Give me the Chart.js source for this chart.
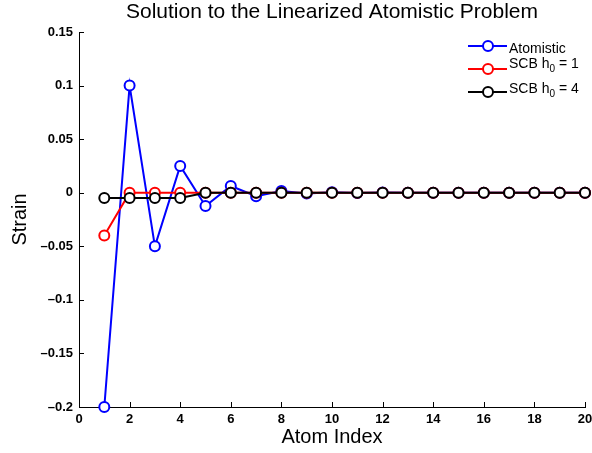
<!DOCTYPE html>
<html>
<head>
<meta charset="utf-8">
<script src="https://cdn.jsdelivr.net/npm/chart.js@4"></script>
<style>
  body { margin: 0; background: #fff; }
  #box { width: 592px; height: 453px; }
</style>
</head>
<body>
<div id="box"><canvas id="strainChart"></canvas></div>
<script>
// atom index 1..20
const atomIndex = [1, 2, 3, 4, 5, 6, 7, 8, 9, 10, 11, 12, 13, 14, 15, 16, 17, 18, 19, 20];
// strain values
const atomistic = [-0.2, 0.1, -0.05, 0.025, -0.0125, 0.0063, -0.0032, 0.0016, -0.0008, 0.0004, -0.0002, 0.0001, 0, 0, 0, 0, 0, 0, 0, 0];
const scbH1 = [-0.04, 0, 0, 0, 0, 0, 0, 0, 0, 0, 0, 0, 0, 0, 0, 0, 0, 0, 0, 0];
const scbH4 = [-0.005, -0.005, -0.005, -0.005, 0, 0, 0, 0, 0, 0, 0, 0, 0, 0, 0, 0, 0, 0, 0, 0];

const xTickValues = [0, 2, 4, 6, 8, 10, 12, 14, 16, 18, 20];
const yTickValues = [-0.2, -0.15, -0.1, -0.05, 0, 0.05, 0.1, 0.15];
const yTickLabels = ["\u20130.2", "\u20130.15", "\u20130.1", "\u20130.05", "0", "0.05", "0.1", "0.15"];

const titleText = "Solution to the Linearized Atomistic Problem";
const legendItems = [
  { name: "Atomistic", sub: "", rest: "", color: "#0000ff" },
  { name: "SCB h", sub: "0", rest: " = 1", color: "#ff0000" },
  { name: "SCB h", sub: "0", rest: " = 4", color: "#000000" }
];

const FONT = "'Liberation Sans', Arial, Helvetica, sans-serif";

function toPoints(values) {
  return values.map((v, i) => ({ x: atomIndex[i], y: v }));
}

function makeSet(label, values, color, order) {
  return {
    label: label,
    data: toPoints(values),
    borderColor: color,
    backgroundColor: color,
    borderWidth: 2,
    pointRadius: 5,
    pointHoverRadius: 5,
    pointBorderWidth: 2,
    pointBorderColor: color,
    pointBackgroundColor: "#ffffff",
    tension: 0,
    clip: false,
    order: order
  };
}

// matlab style inward ticks, title and legend
const extras = {
  id: "extras",
  afterDraw(chart) {
    const ctx = chart.ctx;
    const area = chart.chartArea;
    const xs = chart.scales.x;
    const ys = chart.scales.y;
    ctx.save();
    ctx.strokeStyle = "#000";
    ctx.lineWidth = 1;
    ctx.beginPath();
    xTickValues.forEach(v => {
      const px = Math.round(xs.getPixelForValue(v)) + 0.5;
      ctx.moveTo(px, area.bottom);
      ctx.lineTo(px, area.bottom - 5);
    });
    yTickValues.forEach(v => {
      const py = Math.round(ys.getPixelForValue(v)) + 0.5;
      ctx.moveTo(area.left, py);
      ctx.lineTo(area.left + 5, py);
    });
    ctx.stroke();

    // title
    ctx.fillStyle = "#000";
    ctx.font = "21px " + FONT;
    ctx.textAlign = "center";
    ctx.textBaseline = "alphabetic";
    ctx.fillText(titleText, (area.left + area.right) / 2, 18);

    // legend
    const lineY = [46, 69, 92];
    const textY = [52.5, 68, 92.5];
    ctx.textAlign = "left";
    legendItems.forEach((item, i) => {
      ctx.strokeStyle = item.color;
      ctx.lineWidth = 2;
      ctx.beginPath();
      ctx.moveTo(468, lineY[i]);
      ctx.lineTo(507, lineY[i]);
      ctx.stroke();
      ctx.beginPath();
      ctx.arc(488, lineY[i], 5, 0, Math.PI * 2);
      ctx.fillStyle = "#fff";
      ctx.fill();
      ctx.stroke();
      ctx.fillStyle = "#000";
      ctx.font = "14px " + FONT;
      let tx = 509;
      ctx.fillText(item.name, tx, textY[i]);
      tx += ctx.measureText(item.name).width;
      if (item.sub) {
        ctx.font = "10px " + FONT;
        ctx.fillText(item.sub, tx, textY[i] + 4);
        tx += ctx.measureText(item.sub).width;
        ctx.font = "14px " + FONT;
        ctx.fillText(item.rest, tx, textY[i]);
      }
    });
    ctx.restore();
  }
};

new Chart(document.getElementById("strainChart"), {
  type: "line",
  data: {
    datasets: [
      makeSet("Atomistic", atomistic, "#0000ff", 3),
      makeSet("SCB h0 = 1", scbH1, "#ff0000", 2),
      makeSet("SCB h0 = 4", scbH4, "#000000", 1)
    ]
  },
  options: {
    responsive: true,
    maintainAspectRatio: false,
    animation: false,
    events: [],
    layout: { padding: { top: 32, right: 7, left: 0, bottom: 0 } },
    plugins: {
      legend: { display: false },
      title: { display: false },
      tooltip: { enabled: false }
    },
    scales: {
      x: {
        type: "linear",
        min: 0,
        max: 20,
        afterBuildTicks: scale => { scale.ticks = xTickValues.map(v => ({ value: v })); },
        afterFit: scale => {
          scale.height = 46;
          scale.paddingLeft = 0;
          scale.paddingRight = 0;
        },
        grid: { drawOnChartArea: false, drawTicks: false },
        border: { display: true, color: "#000", width: 1 },
        ticks: {
          color: "#000",
          padding: 5,
          maxRotation: 0,
          font: { family: FONT, size: 13, weight: "bold" }
        },
        title: {
          display: true,
          text: "Atom Index",
          color: "#000",
          font: { family: FONT, size: 20 },
          padding: { top: 0, bottom: 4 }
        }
      },
      y: {
        type: "linear",
        min: -0.2,
        max: 0.15,
        afterBuildTicks: scale => { scale.ticks = yTickValues.map(v => ({ value: v })); },
        afterFit: scale => {
          scale.width = 79;
          scale.paddingTop = 0;
          scale.paddingBottom = 0;
        },
        grid: { drawOnChartArea: false, drawTicks: false },
        border: { display: true, color: "#000", width: 1 },
        ticks: {
          color: "#000",
          padding: 6,
          font: { family: FONT, size: 13, weight: "bold" },
          callback: function (value) {
            const i = yTickValues.findIndex(v => Math.abs(v - value) < 1e-9);
            return i >= 0 ? yTickLabels[i] : "";
          }
        },
        title: {
          display: true,
          text: "Strain",
          color: "#000",
          font: { family: FONT, size: 20 },
          padding: { top: 8, bottom: 0 }
        }
      }
    }
  },
  plugins: [extras]
});
</script>
</body>
</html>
